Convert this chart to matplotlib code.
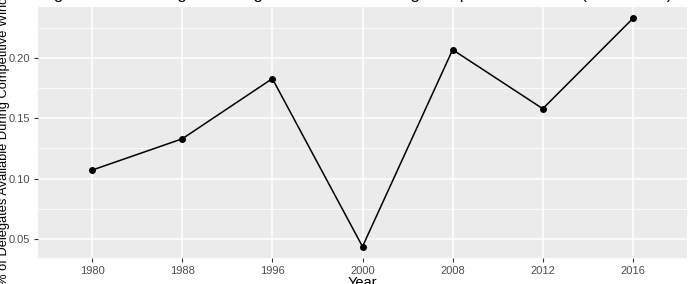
import matplotlib.pyplot as plt
import numpy as np

# donnees
years = ["1980", "1988", "1996", "2000", "2008", "2012", "2016"]
share = [0.107, 0.133, 0.183, 0.0435, 0.207, 0.158, 0.233]
yticks = [0.05, 0.10, 0.15, 0.20]
yminor = [0.075, 0.125, 0.175, 0.225]

plt.rcParams['font.family'] = ['Liberation Sans', 'DejaVu Sans']

fig = plt.figure(figsize=(6.9, 2.84), dpi=100)
ax = fig.add_axes([38/690, 26/284, 649/690, 251/284])
ax.set_facecolor('#EBEBEB')

x = np.arange(len(years))
ax.plot(x, share, color='black', lw=1.1, zorder=3)
ax.scatter(x, share, color='black', s=16, zorder=4)

lo, hi = min(share), max(share)
pad = (hi - lo) * 0.05
ax.set_ylim(lo - pad, hi + pad)
ax.set_xlim(-0.6, len(years) - 1 + 0.6)

ax.set_xticks(x)
ax.set_xticklabels(years)
ax.set_yticks(yticks)
ax.set_yticklabels(["%.2f" % v for v in yticks])
ax.set_yticks(yminor, minor=True)

ax.grid(which='major', color='white', lw=1.1)
ax.grid(which='minor', axis='y', color='white', lw=0.55)
ax.set_axisbelow(True)
for s in ax.spines.values():
    s.set_visible(False)
ax.tick_params(which='major', colors='#333333', labelcolor='#4D4D4D',
               labelsize=8, length=3, width=0.8, pad=2.5)
ax.tick_params(which='minor', length=0)

ax.set_xlabel("Year", fontsize=10.5, va='top')
ax.xaxis.set_label_coords(0.5, -0.072)
ax.set_ylabel("% of Delegates Available During Competitive Window", fontsize=9.3)
ax.yaxis.set_label_coords(-0.0425, 0.5)

# titre coupe en haut de l'image
fig.text(0.058, 1.0 + 1/284, "Figure 1: Percentage of Delegates Available During Competitive Window (1980-2016)",
         fontsize=12, va='baseline', ha='left')

fig.savefig("out.png", dpi=100)
